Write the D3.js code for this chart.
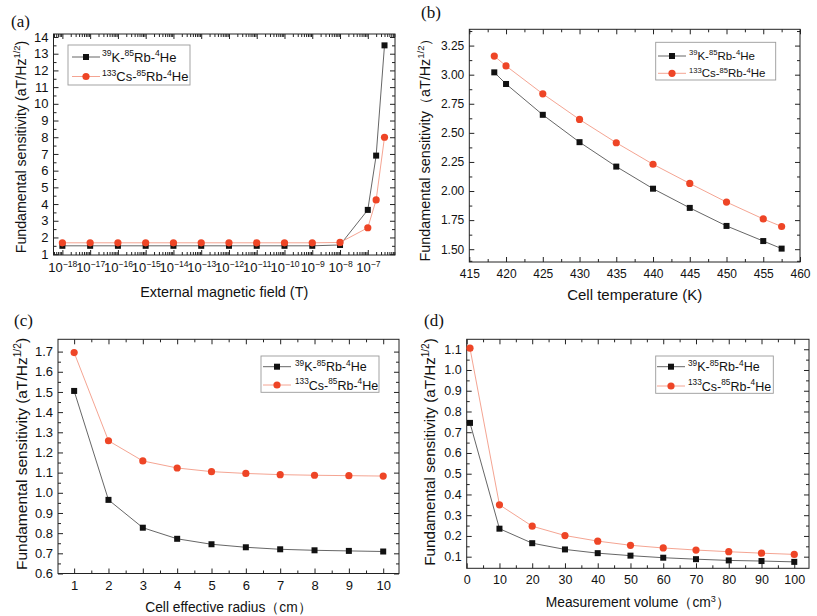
<!DOCTYPE html>
<html>
<head>
<meta charset="utf-8">
<script src="https://cdn.jsdelivr.net/npm/d3@7"></script>
<style>
  body { margin: 0; background: #fff; }
  svg { display: block; }
</style>
</head>
<body>
<div id="chart"></div>
<script>
// ---- data ----
// (a) external magnetic field (T)
const fieldB = [1e-18, 1e-17, 1e-16, 1e-15, 1e-14, 1e-13, 1e-12, 1e-11, 1e-10, 1e-9, 1e-8, 1e-7, 2e-7, 4e-7];
const fieldK = [1.50, 1.50, 1.50, 1.50, 1.50, 1.50, 1.50, 1.50, 1.50, 1.50, 1.55, 3.65, 6.90, 13.50];
const fieldCs = [1.68, 1.68, 1.68, 1.68, 1.68, 1.68, 1.68, 1.68, 1.68, 1.68, 1.70, 2.58, 4.25, 8.00];
const fieldXTicks = [1e-18, 1e-17, 1e-16, 1e-15, 1e-14, 1e-13, 1e-12, 1e-11, 1e-10, 1e-9, 1e-8, 1e-7];
const fieldYTicks = [1, 2, 3, 4, 5, 6, 7, 8, 9, 10, 11, 12, 13, 14];

// (b) cell temperature (K)
const tempT = [418.4, 420, 425, 430, 435, 440, 445, 450, 455, 457.5];
const tempK = [3.02, 2.92, 2.655, 2.42, 2.21, 2.02, 1.855, 1.70, 1.57, 1.505];
const tempCs = [3.16, 3.075, 2.835, 2.615, 2.415, 2.23, 2.065, 1.905, 1.76, 1.695];
const tempXTicks = [415, 420, 425, 430, 435, 440, 445, 450, 455, 460];
const tempYTicks = [1.50, 1.75, 2.00, 2.25, 2.50, 2.75, 3.00, 3.25];

// (c) cell effective radius (cm)
const radiusR = [1, 2, 3, 4, 5, 6, 7, 8, 9, 10];
const radiusK = [1.505, 0.965, 0.827, 0.772, 0.745, 0.730, 0.720, 0.715, 0.712, 0.709];
const radiusCs = [1.695, 1.258, 1.158, 1.123, 1.105, 1.096, 1.090, 1.087, 1.085, 1.083];
const radiusXTicks = [1, 2, 3, 4, 5, 6, 7, 8, 9, 10];
const radiusYTicks = [0.6, 0.7, 0.8, 0.9, 1.0, 1.1, 1.2, 1.3, 1.4, 1.5, 1.6, 1.7];

// (d) measurement volume (cm3)
const volumeV = [1, 10, 20, 30, 40, 50, 60, 70, 80, 90, 100];
const volumeK = [0.745, 0.235, 0.165, 0.135, 0.117, 0.105, 0.095, 0.088, 0.082, 0.079, 0.075];
const volumeCs = [1.105, 0.350, 0.247, 0.202, 0.175, 0.155, 0.142, 0.132, 0.124, 0.117, 0.111];
const volumeXTicks = [0, 10, 20, 30, 40, 50, 60, 70, 80, 90, 100];
const volumeYTicks = [0.1, 0.2, 0.3, 0.4, 0.5, 0.6, 0.7, 0.8, 0.9, 1.0, 1.1];

const seriesK = [["39", 1], ["K-", 0], ["85", 1], ["Rb-", 0], ["4", 1], ["He", 0]];
const seriesCs = [["133", 1], ["Cs-", 0], ["85", 1], ["Rb-", 0], ["4", 1], ["He", 0]];

// ---- drawing ----
const width = 817, height = 616;
const sans = "'Liberation Sans', Arial, Helvetica, sans-serif";
const colK = "#111", lineK = "#555", colCs = "#ee4526", lineCs = "#f39a86";

const svg = d3.select("#chart")
    .append("svg")
    .attr("width", width)
    .attr("height", height);

// text with superscript pieces
function rich(sel, parts, fs) {
    let up = false;
    parts.forEach(([t, sup]) => {
        const ts = sel.append("tspan").text(t);
        if (sup) {
            ts.attr("font-size", fs * 0.66);
            if (!up) ts.attr("dy", -0.42 * fs);
            up = true;
        } else if (up) {
            ts.attr("dy", 0.42 * fs);
            up = false;
        }
    });
}

function addAxis(g, gen, scale, transform, values, size, fmt, fs, pad) {
    const axis = gen(scale)
        .tickValues(values)
        .tickSize(-size)
        .tickSizeOuter(0)
        .tickPadding(pad || 0)
        .tickFormat(fmt || (() => ""));
    const s = g.append("g")
        .attr("transform", transform)
        .call(axis)
        .attr("font-family", sans)
        .attr("font-size", fs || 10);
    s.select(".domain").remove();
    s.selectAll("line").attr("stroke", "#222");
    s.selectAll("text").attr("fill", "#111");
    return s;
}

function panel(o) {
    const g = svg.append("g");
    const x = (o.log ? d3.scaleLog() : d3.scaleLinear())
        .domain(o.xDomain).range([o.left, o.right]);
    const y = d3.scaleLinear()
        .domain(o.yDomain).range([o.bottom, o.top]);

    // minor ticks, all four sides
    addAxis(g, d3.axisBottom, x, `translate(0,${o.bottom})`, o.xMinor, 3);
    addAxis(g, d3.axisTop, x, `translate(0,${o.top})`, o.xMinor, 3);
    addAxis(g, d3.axisLeft, y, `translate(${o.left},0)`, o.yMinor, 3);
    addAxis(g, d3.axisRight, y, `translate(${o.right},0)`, o.yMinor, 3);

    // major ticks
    const bx = addAxis(g, d3.axisBottom, x, `translate(0,${o.bottom})`, o.xTicks, 5, o.xFmt, o.tickFs, o.xPad);
    addAxis(g, d3.axisTop, x, `translate(0,${o.top})`, o.xTicks, 5);
    addAxis(g, d3.axisLeft, y, `translate(${o.left},0)`, o.yTicks, 5, o.yFmt, o.tickFs, 5);
    addAxis(g, d3.axisRight, y, `translate(${o.right},0)`, o.yTicks, 5);

    if (o.log) {
        bx.selectAll("text").each(function (d) {
            const t = d3.select(this).text("");
            rich(t, [["10", 0], ["\u2212" + Math.abs(Math.round(Math.log10(d))), 1]], o.tickFs);
        });
    }

    g.append("rect")
        .attr("x", o.left).attr("y", o.top)
        .attr("width", o.right - o.left).attr("height", o.bottom - o.top)
        .attr("fill", "none").attr("stroke", "#222").attr("stroke-width", 1);

    // series
    const line = d3.line().x(d => x(d[0])).y(d => y(d[1]));
    const ptsK = o.xs.map((v, i) => [v, o.k[i]]);
    const ptsCs = o.xs.map((v, i) => [v, o.cs[i]]);

    g.append("path").datum(ptsK).attr("d", line)
        .attr("fill", "none").attr("stroke", lineK).attr("stroke-width", 0.9);
    g.append("path").datum(ptsCs).attr("d", line)
        .attr("fill", "none").attr("stroke", lineCs).attr("stroke-width", 0.9);

    g.selectAll(".mk").data(ptsK).join("rect")
        .attr("x", d => x(d[0]) - 3).attr("y", d => y(d[1]) - 3)
        .attr("width", 6).attr("height", 6).attr("fill", colK);
    g.selectAll(".mc").data(ptsCs).join("circle")
        .attr("cx", d => x(d[0])).attr("cy", d => y(d[1]))
        .attr("r", 3.6).attr("fill", colCs);

    // axis titles
    const xt = g.append("text")
        .attr("x", (o.left + o.right) / 2).attr("y", o.bottom + o.xTitleDy)
        .attr("text-anchor", "middle")
        .attr("font-family", sans).attr("font-size", o.xTitleFs).attr("fill", "#111");
    rich(xt, o.xTitle, o.xTitleFs);

    const yt = g.append("text")
        .attr("transform", `translate(${o.yTitleX},${o.yTitleY}) rotate(-90)`)
        .attr("text-anchor", "middle").attr("dy", "0.36em")
        .attr("font-family", sans).attr("font-size", o.yTitleFs).attr("fill", "#111");
    rich(yt, o.yTitle, o.yTitleFs);

    // panel letter
    g.append("text")
        .attr("x", o.tagX).attr("y", o.tagY)
        .attr("font-family", "'Liberation Serif', 'Times New Roman', serif")
        .attr("font-size", 17).attr("fill", "#111")
        .text(o.tag);

    // legend
    const L = o.legend;
    g.append("rect")
        .attr("x", L.x0).attr("y", L.y0)
        .attr("width", L.x1 - L.x0).attr("height", L.y1 - L.y0)
        .attr("fill", "#fff").attr("stroke", "#9a9a9a").attr("stroke-width", 0.9);
    [[seriesK, lineK, colK, L.row1], [seriesCs, lineCs, colCs, L.row2]].forEach(([parts, lc, mc, ry], i) => {
        g.append("line")
            .attr("x1", L.lx0).attr("x2", L.lx1).attr("y1", ry).attr("y2", ry)
            .attr("stroke", lc).attr("stroke-width", 0.9);
        const mx = (L.lx0 + L.lx1) / 2;
        if (i === 0) {
            g.append("rect").attr("x", mx - 3).attr("y", ry - 3)
                .attr("width", 6).attr("height", 6).attr("fill", mc);
        } else {
            g.append("circle").attr("cx", mx).attr("cy", ry).attr("r", 3.6).attr("fill", mc);
        }
        const t = g.append("text")
            .attr("x", L.tx).attr("y", ry + L.fs * 0.36)
            .attr("font-family", sans).attr("font-size", L.fs).attr("fill", "#111");
        rich(t, parts, L.fs);
    });
}

// log minor ticks for (a)
const fieldMinor = [];
for (let e = -19; e <= -7; e++) {
    for (let m = 2; m <= 9; m++) {
        const v = m * Math.pow(10, e);
        if (v > 4.8e-19 && v < 9.5e-7) fieldMinor.push(v);
    }
}
function mids(t) {
    const out = [];
    for (let i = 0; i < t.length - 1; i++) out.push((t[i] + t[i + 1]) / 2);
    return out;
}

panel({
    tag: "(a)", tagX: 11, tagY: 27,
    left: 53.5, right: 395, top: 34, bottom: 255,
    log: true, xDomain: [Math.pow(10, -18.32), Math.pow(10, -6.02)], yDomain: [0.95, 14.18],
    xs: fieldB, k: fieldK, cs: fieldCs,
    xTicks: fieldXTicks, xMinor: fieldMinor,
    yTicks: fieldYTicks, yMinor: mids(fieldYTicks).concat([14.0]).filter(v => v !== 14.0),
    yFmt: d3.format("d"), tickFs: 13, xPad: 8,
    xTitle: [["External magnetic field (T)", 0]], xTitleFs: 14.4, xTitleDy: 42,
    yTitle: [["Fundamental sensitivity (aT/Hz", 0], ["1/2", 1], [")", 0]], yTitleFs: 14.2,
    yTitleX: 21, yTitleY: 147,
    legend: { x0: 68, x1: 190, y0: 45, y1: 85, row1: 57, row2: 76.5, lx0: 72, lx1: 100, tx: 102, fs: 13 }
});

panel({
    tag: "(b)", tagX: 421, tagY: 18,
    left: 469.3, right: 800, top: 29.3, bottom: 262,
    xDomain: [415, 460], yDomain: [1.39, 3.39],
    xs: tempT, k: tempK, cs: tempCs,
    xTicks: tempXTicks, xMinor: mids(tempXTicks),
    yTicks: tempYTicks, yMinor: mids(tempYTicks).concat([1.375 + 0.025, 3.375]).filter(v => v > 1.39 && v < 3.39),
    xFmt: d3.format("d"), yFmt: d3.format(".2f"), tickFs: 12, xPad: 7,
    xTitle: [["Cell temperature (K)", 0]], xTitleFs: 15, xTitleDy: 38,
    yTitle: [["Fundamental sensitivity\uff08aT/Hz", 0], ["1/2", 1], ["\uff09", 0]], yTitleFs: 14.4,
    yTitleX: 425, yTitleY: 146.5,
    legend: { x0: 655.7, x1: 775.7, y0: 42.3, y1: 80, row1: 56, row2: 73.3, lx0: 658, lx1: 686, tx: 689, fs: 11.5 }
});

panel({
    tag: "(c)", tagX: 14, tagY: 326,
    left: 58, right: 399, top: 339.3, bottom: 573.5,
    xDomain: [0.53, 10.46], yDomain: [0.6, 1.761],
    xs: radiusR, k: radiusK, cs: radiusCs,
    xTicks: radiusXTicks, xMinor: mids(radiusXTicks),
    yTicks: radiusYTicks, yMinor: mids(radiusYTicks),
    xFmt: d3.format("d"), yFmt: d3.format(".1f"), tickFs: 13, xPad: 7,
    xTitle: [["Cell effective radius\uff08cm\uff09", 0]], xTitleFs: 13.8, xTitleDy: 38,
    yTitle: [["Fundamental sensitivity (aT/Hz", 0], ["1/2", 1], [")", 0]], yTitleFs: 15.5,
    yTitleX: 21.5, yTitleY: 454,
    legend: { x0: 261, x1: 379, y0: 356, y1: 392.3, row1: 366.7, row2: 385, lx0: 263, lx1: 291, tx: 295, fs: 12.5 }
});

panel({
    tag: "(d)", tagX: 424, tagY: 326,
    left: 466.7, right: 809, top: 339.3, bottom: 568.3,
    xDomain: [0, 104.5], yDomain: [0.044, 1.148],
    xs: volumeV, k: volumeK, cs: volumeCs,
    xTicks: volumeXTicks, xMinor: mids(volumeXTicks),
    yTicks: volumeYTicks, yMinor: mids(volumeYTicks),
    xFmt: d3.format("d"), yFmt: d3.format(".1f"), tickFs: 12.5, xPad: 7,
    xTitle: [["Measurement volume\uff08cm", 0], ["3", 1], ["\uff09", 0]], xTitleFs: 13.8, xTitleDy: 39,
    yTitle: [["Fundamental sensitivity (aT/Hz", 0], ["1/2", 1], [")", 0]], yTitleFs: 15.2,
    yTitleX: 430, yTitleY: 452,
    legend: { x0: 655.7, x1: 773.3, y0: 356, y1: 393.3, row1: 366.7, row2: 386, lx0: 657, lx1: 685, tx: 688, fs: 12.5 }
});
</script>
</body>
</html>
